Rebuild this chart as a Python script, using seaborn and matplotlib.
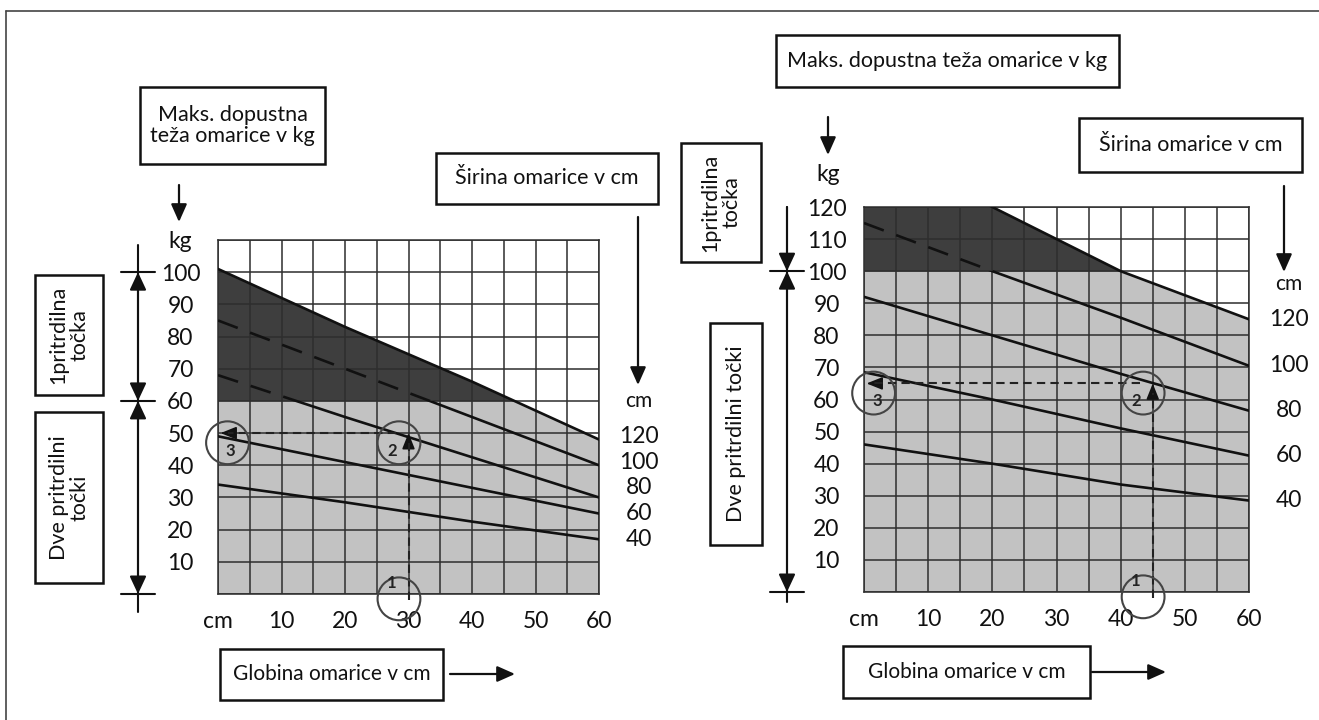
import numpy as np
import pandas as pd
import seaborn as sns
import matplotlib
matplotlib.use("Agg")
import matplotlib.pyplot as plt
from matplotlib import patches, transforms
from matplotlib.lines import Line2D

# depth of the cabinet (x) and width of the cabinet (one line per width)
depth_cm = [0, 20, 40, 60]
width_cm = [40, 60, 80, 100, 120]

# max. allowed weight in kg, one row per width
left_kg = [
    [34, 28.5, 22.5, 17],
    [49, 41, 33, 25],
    [68, 55, 42.5, 30],
    [85, 70, 55, 40],
    [101, 83, 66, 48],
]
right_kg = [
    [46, 40, 33.5, 28.5],
    [68.5, 60, 51, 42.5],
    [92, 80, 68, 56.5],
    [115, 100, 85.5, 70.5],
    [140, 120, 100, 85],
]

left_limit = 60     # above: 1 fixing point only
right_limit = 100
left_example = (30, 50)    # depth cm, weight kg
right_example = (45, 65)

x_ticks = [0, 10, 20, 30, 40, 50, 60]
x_labels = ["cm", "10", "20", "30", "40", "50", "60"]

LIGHT = "#c2c2c2"
DARK = "#3e3e3e"
GRID = "#2e2e2e"
INK = "#111111"

W, H = 1319, 720
sns.set_theme(style="white")
plt.rcParams["font.family"] = ["Lato", "DejaVu Sans"]

fig = plt.figure(figsize=(W / 100, H / 100), dpi=100)


def fx(x):
    return x / W


def fy(y):
    return 1 - y / H


def add_axes(x0, y0, x1, y1):
    return fig.add_axes([fx(x0), fy(y1), fx(x1) - fx(x0), fy(y0) - fy(y1)])


def box(x0, y0, x1, y1, text, rot=0, size=15):
    fig.add_artist(patches.Rectangle((fx(x0), fy(y1)), fx(x1) - fx(x0), fy(y0) - fy(y1),
                                     transform=fig.transFigure, fill=False, ec=INK, lw=1.8))
    fig.text(fx((x0 + x1) / 2), fy((y0 + y1) / 2), text, rotation=rot, ha="center", va="center",
             fontsize=size, linespacing=1.05, color=INK)


def arrow(x0, y0, x1, y1):
    fig.add_artist(patches.FancyArrowPatch((fx(x0), fy(y0)), (fx(x1), fy(y1)), transform=fig.transFigure,
                                           arrowstyle="-|>,head_length=0.9,head_width=0.4",
                                           mutation_scale=12, color=INK, lw=1.6, shrinkA=0, shrinkB=0))


def draw_chart(ax, kg_rows, limit, ymax, example, ax_px, dim_x_px, dim_top, dim_bottom, dim_ticks):
    top = np.array(kg_rows[-1], dtype=float)
    ax.fill_between(depth_cm, 0, top, color=LIGHT, lw=0, zorder=0)
    ax.fill_between(depth_cm, limit, top, where=top >= limit, interpolate=True,
                    color=DARK, lw=0, zorder=0.5)

    df = pd.DataFrame([(str(w), d, kg) for w, row in zip(width_cm, kg_rows)
                       for d, kg in zip(depth_cm, row)], columns=["width", "depth", "kg"])

    # solid part (below the limit), the top line stays solid everywhere
    n0 = len(ax.lines)
    sns.lineplot(data=df, x="depth", y="kg", hue="width", palette=[INK] * 5,
                 legend=False, lw=1.9, ax=ax, zorder=3)
    for w, ln in zip(width_cm, ax.lines[n0:]):
        if w != width_cm[-1]:
            ln.set_clip_path(patches.Rectangle((0, 0), 60, limit, transform=ax.transData))
    # dashed part (inside the dark area)
    n0 = len(ax.lines)
    sns.lineplot(data=df[df["width"] != str(width_cm[-1])], x="depth", y="kg", hue="width",
                 palette=[INK] * 4, legend=False, lw=1.9, ax=ax, zorder=3)
    for ln in ax.lines[n0:]:
        ln.set_dashes((8, 5))
        ln.set_clip_path(patches.Rectangle((0, limit), 60, ymax - limit, transform=ax.transData))

    ax.set_xlim(0, 60)
    ax.set_ylim(0, ymax)
    ax.set_xticks(x_ticks)
    ax.set_xticklabels(x_labels)
    ax.set_xticks(range(5, 60, 10), minor=True)
    ax.set_yticks(range(0, ymax + 1, 10))
    ax.grid(True, which="both", color=GRID, lw=1.1)
    ax.set_axisbelow(False)
    for sp in ax.spines.values():
        sp.set_color(GRID)
        sp.set_linewidth(1.1)
    ax.tick_params(length=0, labelsize=16.5, colors=INK)
    ax.tick_params(axis="x", pad=12)
    ax.tick_params(axis="y", pad=27)
    for t in ax.get_yticklabels():
        t.set_horizontalalignment("center")
    ax.set_xlabel("")
    ax.set_ylabel("")

    # width labels at the right end of each line
    ends = [row[-1] for row in kg_rows]
    pos = []
    for e in ends:
        pos.append(max(e, pos[-1] + 8) if pos else e)
    for w, p in zip(width_cm, pos):
        ax.annotate(str(w), xy=(60, p), xytext=(40, 0), textcoords="offset pixels",
                    ha="center", va="center", fontsize=16.5, color=INK, annotation_clip=False)
    ax.annotate("cm", xy=(60, pos[-1] + 11), xytext=(40, 0), textcoords="offset pixels",
                ha="center", va="center", fontsize=15, color=INK, annotation_clip=False)

    # worked example: depth -> line -> weight
    d, kg = example
    dash = dict(color="#222222", lw=1.5, ls=(0, (4, 2.5)), clip_on=False, zorder=4)
    ax.plot([d, d], [-2, kg - 3], **dash)
    ax.plot([d - 2, 1.5], [kg, kg], **dash)
    head = dict(arrowstyle="-|>,head_length=0.8,head_width=0.32", mutation_scale=12,
                color=INK, lw=1.2, shrinkA=0, shrinkB=0)
    ax.annotate("", xy=(d, kg), xytext=(d, kg - 4), arrowprops=head, annotation_clip=False)
    ax.annotate("", xy=(0.4, kg), xytext=(2.5, kg), arrowprops=head, annotation_clip=False)
    cx = [d - 1.5, d - 1.5, 1.5]
    cy = [-1.5, kg - 3, kg - 3]
    ax.scatter(cx, cy, s=950, facecolors="none", edgecolors="#444444", lw=1.5,
               clip_on=False, zorder=5)
    for t, x, y in zip(["1", "2", "3"], [d - 2.6, d - 2.6, 2.0], [3.5, kg - 5.5, kg - 5.5]):
        ax.text(x, y, t, ha="center", va="center", fontsize=12, fontweight="bold",
                color="#222222", zorder=6)

    # fixing point ranges on the left
    trans = transforms.blended_transform_factory(ax.transAxes, ax.transData)
    xa = (dim_x_px - ax_px[0]) / (ax_px[1] - ax_px[0])
    tw = 17 / (ax_px[1] - ax_px[0])
    ax.plot([xa, xa], [dim_top, dim_bottom], transform=trans, color=INK, lw=1.5, clip_on=False)
    for v in dim_ticks:
        ax.plot([xa - tw, xa + tw], [v, v], transform=trans, color=INK, lw=1.5, clip_on=False)
    ah = dict(mutation_scale=12, color=INK, lw=1.5, shrinkA=0, shrinkB=0)
    ax.annotate("", xy=(xa, dim_ticks[0]), xytext=(xa, dim_ticks[1]), xycoords=trans, textcoords=trans,
                arrowprops=dict(arrowstyle="<|-|>,head_length=0.9,head_width=0.42", **ah))
    if len(dim_ticks) > 2:
        ax.annotate("", xy=(xa, dim_ticks[1]), xytext=(xa, dim_ticks[2]), xycoords=trans, textcoords=trans,
                    arrowprops=dict(arrowstyle="<|-|>,head_length=0.9,head_width=0.42", **ah))
    else:
        ax.annotate("", xy=(xa, dim_ticks[0]), xytext=(xa, dim_top), xycoords=trans, textcoords=trans,
                    arrowprops=dict(arrowstyle="-|>,head_length=0.9,head_width=0.42", **ah))
    return ax


ax_l = add_axes(218, 240, 599, 594)
ax_r = add_axes(864, 207, 1249, 592)

draw_chart(ax_l, left_kg, left_limit, 110, left_example, (218, 599), 138, 108.5, -5.5, [100, 60, 0])
draw_chart(ax_r, right_kg, right_limit, 120, right_example, (864, 1249), 787, 120, -3, [100, 0])

ax_l.set_yticklabels([""] + [str(v) for v in range(10, 101, 10)] + ["kg"])
ax_r.set_yticklabels([""] + [str(v) for v in range(10, 121, 10)])
ax_r.annotate("kg", xy=(0, 130), xytext=(-36, 0), textcoords="offset pixels", ha="center",
              va="center", fontsize=16.5, color=INK, annotation_clip=False)

# outer frame (top and left)
fig.add_artist(Line2D([fx(6), 1], [fy(11), fy(11)], transform=fig.transFigure, color="#444444", lw=1.2))
fig.add_artist(Line2D([fx(6), fx(6)], [fy(11), 0], transform=fig.transFigure, color="#444444", lw=1.2))

# left chart texts
box(140, 87, 325, 164, "Maks. dopustna\nteža omarice v kg", size=15.5)
arrow(179, 185, 179, 222)
box(436, 153, 658, 204, "Širina omarice v cm", size=15.5)
arrow(638, 217, 638, 385)
box(35, 275, 103, 395, "1pritrdilna\ntočka", rot=90, size=15.5)
box(35, 412, 103, 583, "Dve pritrdilni\ntočki", rot=90, size=15.5)
box(220, 649, 443, 700, "Globina omarice v cm")
arrow(450, 674, 515, 674)

# right chart texts
box(776, 35, 1119, 87, "Maks. dopustna teža omarice v kg", size=15.5)
arrow(828, 117, 828, 155)
box(1079, 118, 1302, 172, "Širina omarice v cm", size=15.5)
arrow(1284, 186, 1284, 272)
box(681, 143, 761, 262, "1pritrdilna\ntočka", rot=90, size=15.5)
box(710, 323, 762, 545, "Dve pritrdilni točki", rot=90, size=15.5)
box(843, 646, 1090, 698, "Globina omarice v cm")
arrow(1092, 672, 1166, 672)

fig.savefig("out.png", dpi=100)
